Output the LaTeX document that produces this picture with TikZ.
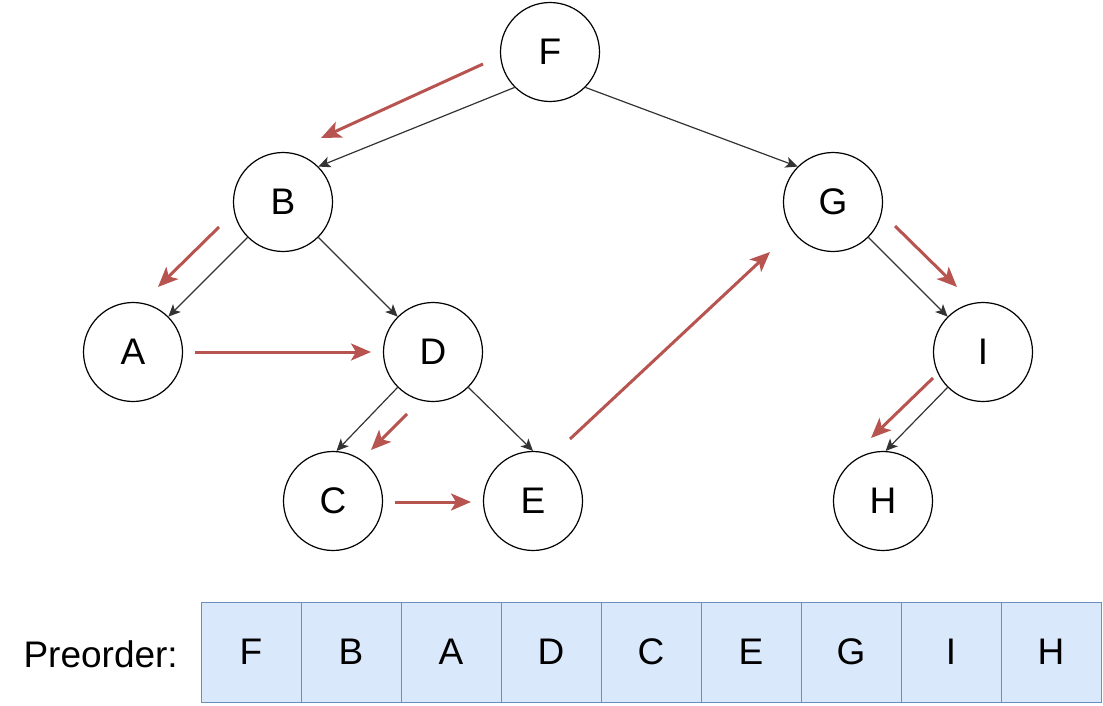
\documentclass[tikz,border=0pt]{standalone}
\usepackage{fontspec}
\setmainfont{Liberation Sans}
\usetikzlibrary{arrows.meta}
\definecolor{redarr}{HTML}{B85450}
\definecolor{cellfill}{HTML}{DAE8FC}
\definecolor{cellline}{HTML}{6C8EBF}
\begin{document}
\begin{tikzpicture}[x=1pt,y=-1pt,
  treenode/.style={circle,draw=black,line width=1.2pt,minimum size=99pt,inner sep=0pt,font=\fontsize{37}{42}\selectfont},
  edge/.style={draw=black!80,line width=1.2pt,-{Stealth[length=12pt,width=11pt,inset=3pt]}},
  trav/.style={draw=redarr,line width=3pt,-{Stealth[length=20pt,width=17pt,inset=5pt]}},
  cell/.style={rectangle,draw=cellline,fill=cellfill,line width=1pt,minimum width=100pt,minimum height=100pt,inner sep=0pt,font=\fontsize{37}{42}\selectfont},
  lbl/.style={font=\fontsize{37}{42}\selectfont,inner sep=0pt}]
\useasboundingbox (0,0) rectangle (1103,706);
% tree nodes
\node[treenode] (F) at (550,52) {F};
\node[treenode] (B) at (283,202) {B};
\node[treenode] (G) at (833,202) {G};
\node[treenode] (A) at (133,352) {A};
\node[treenode] (D) at (433,352) {D};
\node[treenode] (I) at (983,352) {I};
\node[treenode] (C) at (333,501) {C};
\node[treenode] (E) at (533,501) {E};
\node[treenode] (H) at (883,501) {H};
% tree edges
\draw[edge] (F.225) -- (B.45);
\draw[edge] (F.-45) -- (G.135);
\draw[edge] (B.225) -- (A.45);
\draw[edge] (B.-45) -- (D.135);
\draw[edge] (D.225) -- (C.86);
\draw[edge] (D.-45) -- (E.90);
\draw[edge] (G.-45) -- (I.135);
\draw[edge] (I.225) -- (H.87);
% traversal arrows
\coordinate (r1s) at (483,64);  \coordinate (r1e) at (321,138);
\coordinate (r2s) at (219,227); \coordinate (r2e) at (158,287);
\coordinate (r3s) at (195,352); \coordinate (r3e) at (371,352);
\coordinate (r4s) at (407,414); \coordinate (r4e) at (371,450);
\coordinate (r5s) at (395,502); \coordinate (r5e) at (471,502);
\coordinate (r6s) at (570,439); \coordinate (r6e) at (770,252);
\coordinate (r7s) at (895,226); \coordinate (r7e) at (957,287);
\coordinate (r8s) at (933,378); \coordinate (r8e) at (871,438);
\foreach \i in {1,...,8} {\draw[trav] (r\i s) -- (r\i e);}
% preorder array
\node[lbl,anchor=east] (plabel) at (178,654) {Preorder:};
\foreach \t [count=\k from 0] in {F,B,A,D,C,E,G,I,H} {
  \node[cell] (cell\k) at (251+100*\k,652) {\t};
}
\end{tikzpicture}
\end{document}
